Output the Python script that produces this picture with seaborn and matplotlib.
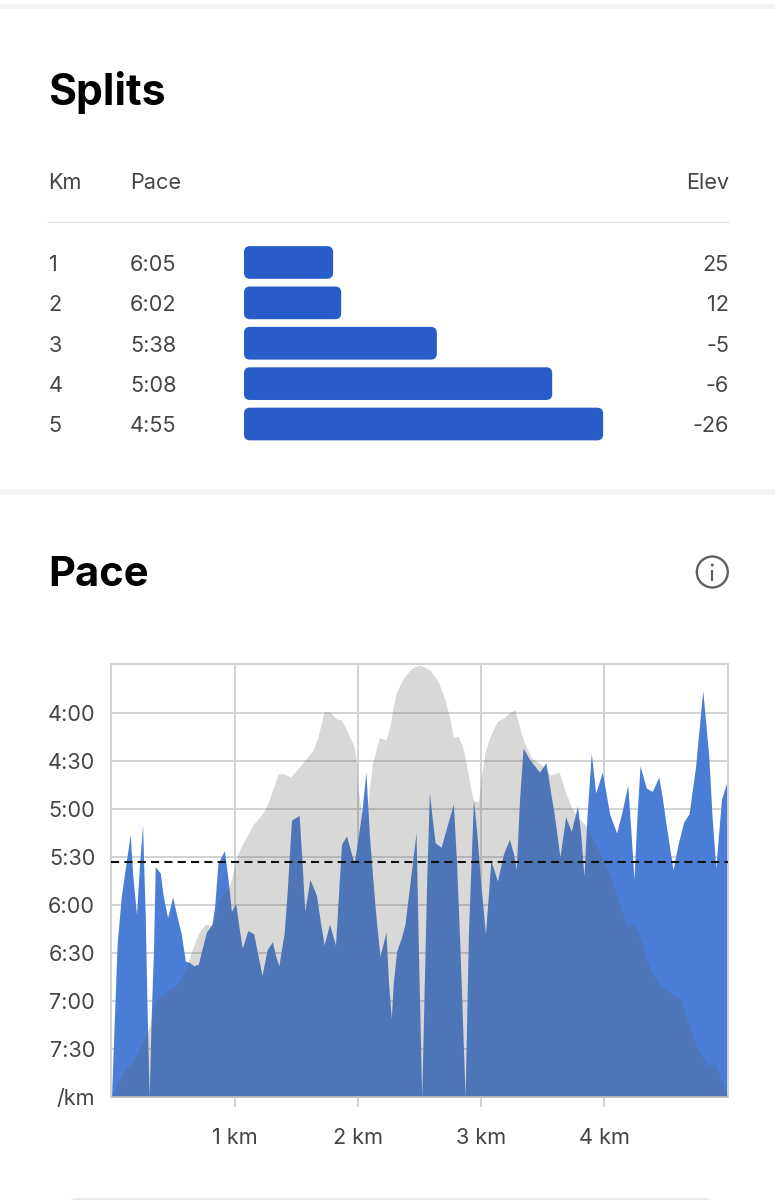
import matplotlib
matplotlib.use("Agg")
import matplotlib.pyplot as plt
from matplotlib.patches import FancyBboxPatch, Circle, Rectangle
from matplotlib.transforms import blended_transform_factory
import pandas as pd
import seaborn as sns

# ---------- data ----------
split_km = ["1", "2", "3", "4", "5"]
split_pace = ["6:05", "6:02", "5:38", "5:08", "4:55"]
split_elev = ["25", "12", "-5", "-6", "-26"]
split_bar = [23.1, 25.2, 50.0, 79.9, 93.1]

pace_km = [0.0, 0.046, 0.079, 0.114, 0.152, 0.173, 0.203, 0.228, 0.252, 0.274, 0.290, 0.306, 0.322, 0.341, 0.355,
           0.396, 0.417, 0.455, 0.496, 0.531, 0.566, 0.599, 0.634, 0.669, 0.705, 0.743, 0.770, 0.816, 0.837, 0.864,
           0.916, 0.946, 0.973, 1.008, 1.035, 1.062, 1.106, 1.154, 1.190, 1.222, 1.263, 1.306, 1.333, 1.358, 1.401,
           1.425, 1.461, 1.523, 1.547, 1.569, 1.610, 1.664, 1.696, 1.726, 1.770, 1.818, 1.867, 1.908, 1.940, 1.970,
           2.003, 2.030, 2.065, 2.092, 2.119, 2.146, 2.179, 2.228, 2.249, 2.271, 2.287, 2.314, 2.355, 2.382, 2.423,
           2.472, 2.491, 2.518, 2.539, 2.558, 2.580, 2.626, 2.675, 2.726, 2.775, 2.802, 2.829, 2.870, 2.897, 2.938,
           2.965, 2.997, 3.035, 3.060, 3.079, 3.133, 3.182, 3.230, 3.263, 3.285, 3.312, 3.341, 3.393, 3.474, 3.526,
           3.561, 3.593, 3.640, 3.686, 3.732, 3.783, 3.810, 3.835, 3.859, 3.894, 3.930, 3.984, 4.043, 4.100, 4.146,
           4.190, 4.217, 4.241, 4.265, 4.290, 4.341, 4.390, 4.442, 4.469, 4.504, 4.558, 4.599, 4.645, 4.688, 4.740,
           4.799, 4.848, 4.875, 4.905, 4.951, 5.0]
pace_sec = [480, 384, 355, 336, 316, 342, 366, 334, 310, 367, 430, 480, 430, 388, 336,
            340, 353, 368, 355, 367, 378, 395, 396, 398, 397, 385, 377, 372, 361, 334,
            326, 344, 364, 359, 374, 387, 376, 378, 392, 404, 388, 383, 392, 398, 378,
            353, 307, 304, 334, 364, 344, 354, 371, 385, 372, 385, 322, 317, 326, 334,
            317, 303, 277, 315, 342, 367, 392, 377, 409, 431, 409, 389, 380, 372, 346,
            315, 388, 480, 409, 346, 290, 321, 324, 310, 297, 336, 388, 480, 378, 294,
            315, 346, 378, 353, 332, 345, 328, 319, 328, 338, 294, 262, 269, 277, 271,
            288, 303, 330, 305, 314, 298, 317, 342, 305, 265, 290, 277, 303, 315, 301,
            285, 315, 344, 305, 273, 287, 289, 280, 292, 311, 338, 322, 308, 303, 274,
            226, 267, 305, 337, 294, 282]

elev_km = [0.0, 0.065, 0.114, 0.160, 0.228, 0.282, 0.309, 0.350, 0.390, 0.472, 0.539, 0.599, 0.640, 0.675, 0.715,
           0.764, 0.816, 0.878, 0.946, 0.973, 1.027, 1.081, 1.149, 1.230, 1.271, 1.312, 1.352, 1.393, 1.453, 1.528,
           1.637, 1.678, 1.724, 1.772, 1.827, 1.867, 1.921, 1.970, 1.989, 2.003, 2.030, 2.049, 2.076, 2.092, 2.119,
           2.173, 2.228, 2.260, 2.287, 2.314, 2.369, 2.436, 2.504, 2.585, 2.653, 2.707, 2.743, 2.775, 2.816, 2.856,
           2.883, 2.911, 2.938, 2.978, 3.005, 3.033, 3.073, 3.133, 3.182, 3.236, 3.276, 3.317, 3.358, 3.412, 3.493,
           3.561, 3.634, 3.683, 3.737, 3.791, 3.846, 3.900, 3.967, 4.049, 4.130, 4.184, 4.233, 4.279, 4.320, 4.374,
           4.442, 4.509, 4.618, 4.672, 4.726, 4.780, 4.835, 4.902, 4.916, 4.957, 5.0]
elev_m = [0, 3.9, 6.6, 7.8, 11.2, 14.7, 16.2, 21.6, 23.2, 24.7, 26.2, 28.9, 32.8, 35.5, 38.2,
          39.9, 39.5, 45.8, 48.2, 50.1, 56.2, 59.3, 62.8, 65.5, 67.8, 71.2, 74.5, 74.7, 73.8, 76.2,
          80.1, 83.2, 88.9, 88.8, 87.2, 87.0, 83.9, 80.8, 77.0, 70.8, 65.5, 63.5, 66.2, 70.8, 77.0,
          82.9, 82.4, 85.5, 90.1, 93.5, 96.6, 98.9, 99.7, 98.5, 95.8, 91.6, 87.8, 83.0, 83.2, 80.1,
          76.2, 72.0, 68.2, 68.2, 74.7, 79.7, 83.2, 86.8, 87.4, 88.8, 89.3, 84.7, 81.2, 78.2, 76.6,
          74.3, 74.9, 70.5, 66.6, 64.3, 62.8, 59.7, 56.2, 50.8, 43.9, 39.3, 40.1, 37.8, 33.9, 29.3,
          26.2, 24.7, 22.4, 17.8, 13.2, 10.1, 7.4, 7.4, 6.2, 3.2, 0]

avg_pace_sec = 333
pace_ticks = [240, 270, 300, 330, 360, 390, 420, 450, 480]
pace_tick_labels = ["4:00", "4:30", "5:00", "5:30", "6:00", "6:30", "7:00", "7:30", "/km"]
km_ticks = [1, 2, 3, 4]
km_tick_labels = ["1 km", "2 km", "3 km", "4 km"]

# ---------- style ----------
W, H = 775, 1200
BLUE_BAR = "#285dc9"
BLUE_AREA = "#4a7ed6"
TXT = "#454545"
GRID = "#d2d2d2"
FS = 15.6
sns.set_theme(style="white")
plt.rcParams["font.family"] = ["Inter", "DejaVu Sans"]

fig = plt.figure(figsize=(W / 100, H / 100), dpi=100, facecolor="white")


def px_axes(x0, y0, x1, y1, **kw):
    return fig.add_axes([x0 / W, 1 - y1 / H, (x1 - x0) / W, (y1 - y0) / H], **kw)


# page overlay in pixel coordinates
page = px_axes(0, 0, W, H)
page.set_xlim(0, W)
page.set_ylim(H, 0)
page.axis("off")
for y0, y1 in [(4, 9), (489, 495)]:
    page.add_patch(Rectangle((0, y0), W, y1 - y0, color="#f3f3f1", lw=0))
page.add_patch(FancyBboxPatch((66, 1198), 649, 40, boxstyle="round,pad=0,rounding_size=12",
                              fc="#e8e8e8", ec="none"))
page.plot([48, 729], [221.5, 221.5], color="#e4e4e4", lw=1)

page.text(48, 105, "Splits", fontsize=30.8, fontweight="bold", color="black", va="baseline")
page.text(48, 585.5, "Pace", fontsize=30, fontweight="bold", color="black", va="baseline")
page.text(48.5, 189, "Km", fontsize=FS, color=TXT, va="baseline")
page.text(130, 189, "Pace", fontsize=FS, color=TXT, va="baseline")
page.text(729, 189, "Elev", fontsize=FS, color=TXT, va="baseline", ha="right")

# info icon
page.add_patch(Circle((712.3, 572), 15.5, fc="none", ec="#606060", lw=1.7))
page.plot([712.3, 712.3], [570, 581], color="#606060", lw=1.6, solid_capstyle="butt")
page.add_patch(Circle((712.3, 565), 1.5, fc="#606060", ec="none"))

# ---------- splits bars ----------
bar_ax = px_axes(244, 242.3, 730, 444.2)
splits = pd.DataFrame({"km": split_km, "bar": split_bar})
sns.barplot(data=splits, x="bar", y="km", order=split_km, orient="h", width=0.81,
            color=BLUE_BAR, saturation=1, ax=bar_ax)
bar_ax.set_xlim(0, 126)
bar_ax.set_ylim(4.5, -0.5)
bar_ax.axis("off")
x_px = 486 / 126
y_px = (444.2 - 242.3) / 5
radius = 6 / x_px
for bar in list(bar_ax.patches):
    bx, by, bw, bh = bar.get_x(), bar.get_y(), bar.get_width(), bar.get_height()
    bar.remove()
    bar_ax.add_patch(FancyBboxPatch((bx, by), bw, bh,
                                    boxstyle=f"round,pad=0,rounding_size={radius}",
                                    mutation_aspect=x_px / y_px, fc=BLUE_BAR, ec="none"))

row_tr = blended_transform_factory(page.transData, bar_ax.transData)
for i, (k, p, e) in enumerate(zip(split_km, split_pace, split_elev)):
    page.text(48.5, i + 0.06, k, transform=row_tr, fontsize=FS, color=TXT, va="center")
    page.text(130, i + 0.06, p, transform=row_tr, fontsize=FS, color=TXT, va="center")
    page.text(729, i + 0.06, e, transform=row_tr, fontsize=FS, color=TXT, va="center", ha="right")

# ---------- pace / elevation chart ----------
ax = px_axes(111.5, 664, 727.5, 1097)
ax.set_facecolor("white")
pace_df = pd.DataFrame({"km": pace_km, "sec": pace_sec})
sns.lineplot(data=pace_df, x="km", y="sec", estimator=None, color=BLUE_AREA, lw=0, ax=ax, zorder=2)
ax.fill_between(pace_km, pace_sec, 480, color=BLUE_AREA, lw=0, zorder=2)
ax.set_xlim(0, 5)
ax.set_ylim(480, 209.4)
ax.set_xlabel("")
ax.set_ylabel("")
ax.set_xticks(km_ticks, km_tick_labels)
ax.set_yticks(pace_ticks, pace_tick_labels)
ax.set_axisbelow(True)
ax.grid(True, color=GRID, lw=1.4)
ax.tick_params(axis="x", length=7, width=1.4, color=GRID, labelsize=FS, labelcolor=TXT, pad=15.5, bottom=True)
ax.tick_params(axis="y", length=0, labelsize=FS, labelcolor=TXT, pad=11.7)
for s in ax.spines.values():
    s.set_color(GRID)
    s.set_linewidth(1.4)

ax2 = ax.twinx()
ax2.set_ylim(0, 99.9)
ax2.set_yticks([])
ax2.set_ylabel("")
ax2.grid(False)
for s in ax2.spines.values():
    s.set_visible(False)
ax2.fill_between(elev_km, elev_m, 0, color="#5c5c5a", alpha=0.24, lw=0, zorder=3)
ax2.plot([0, 5], [avg_pace_sec, avg_pace_sec], transform=ax.transData, color="#111111",
         lw=1.5, dashes=(3.9, 2.5), zorder=4)
ax2.set_xlim(0, 5)

fig.savefig("out.png", dpi=100)
